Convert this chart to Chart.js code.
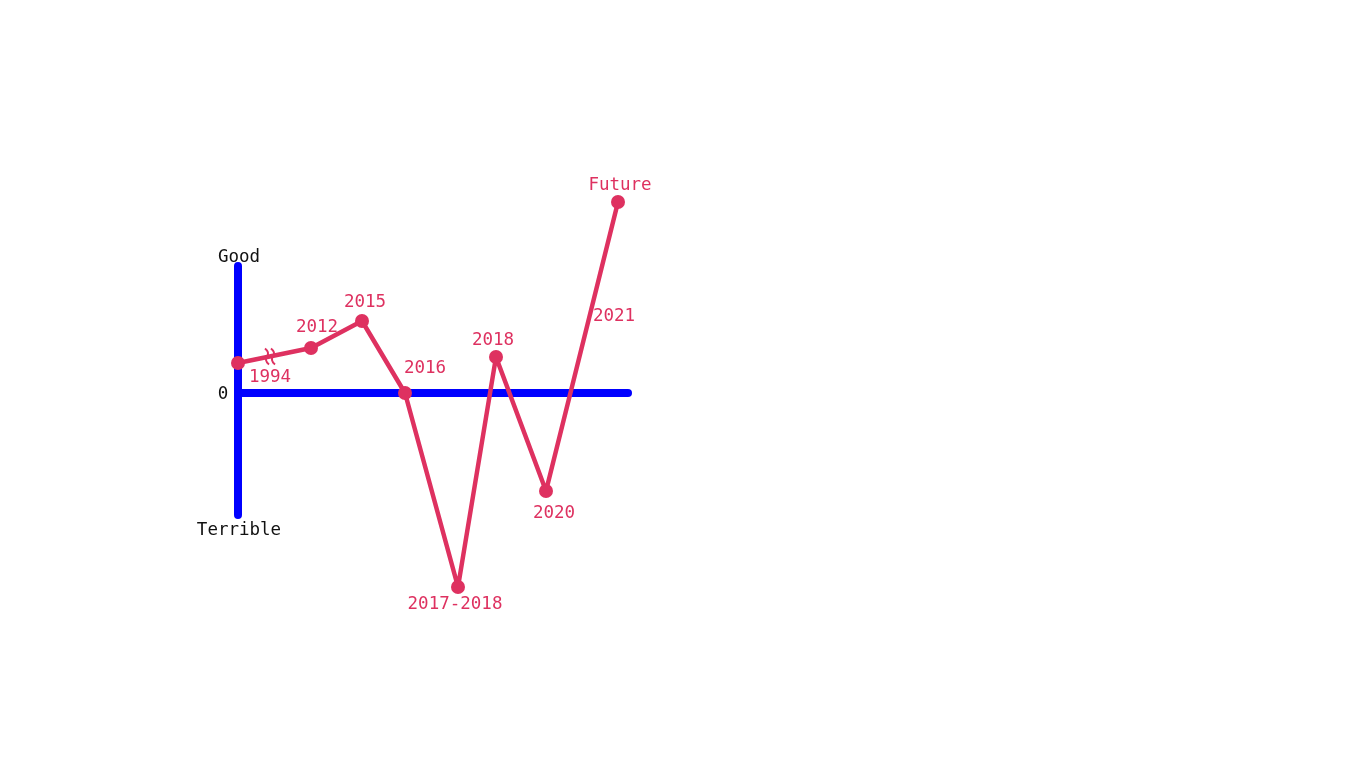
<!DOCTYPE html>
<html lang="en">
<head>
    <meta charset="UTF-8">
    <title>Good / Terrible</title>
    <script src="https://cdn.jsdelivr.net/npm/chart.js"></script>
    <style>
        body {
            margin: 0;
            padding: 0;
            background: #fff;
            overflow: hidden;
        }
        canvas {
            display: block;
        }
    </style>
</head>
<body>
    <canvas id="lifeChart" width="1366" height="768"></canvas>

    <script>
        // data
        const years = ['1994', '2012', '2015', '2016', '2017-2018', '2018', '2020', 'Future'];
        const timeValues = [0, 7.3, 12.4, 16.7, 22.0, 25.8, 30.8, 38.0];
        const moodValues = [3.0, 4.5, 7.2, 0, -19.4, 3.6, -9.8, 19.1];

        // axes as data lines
        const axisX = [0, 39];
        const axisTop = 12.7;
        const axisBottom = -12.2;
        const axisLabels = ['Good', '0', 'Terrible'];

        // extra note on the last segment
        const noteText = ['2021'];
        const noteX = [37.6];
        const noteY = [7.8];

        // styles
        const pink = '#DE3160';
        const blue = '#0000FF';
        const font = '17.5px "DejaVu Sans Mono", monospace';
        const labelOffsets = [
            [32, 14], [6, -21], [3, -19], [20, -25],
            [-3, 17], [-3, -17], [8, 22], [2, -17]
        ];

        const labelPlugin = {
            id: 'labels',
            afterDatasetsDraw(chart) {
                const ctx = chart.ctx;
                const x = chart.scales.x;
                const y = chart.scales.y;
                ctx.save();
                ctx.font = font;
                ctx.textAlign = 'center';
                ctx.textBaseline = 'middle';

                // break marker between 1994 and 2012
                const bx = x.getPixelForValue(3.2);
                const by = y.getPixelForValue(moodValues[0] + (moodValues[1] - moodValues[0]) * 3.2 / timeValues[1]);
                ctx.strokeStyle = pink;
                ctx.lineWidth = 2;
                [-3, 3].forEach(dx => {
                    ctx.beginPath();
                    ctx.moveTo(bx + dx - 2, by - 8);
                    ctx.quadraticCurveTo(bx + dx + 3, by - 4, bx + dx, by);
                    ctx.quadraticCurveTo(bx + dx - 3, by + 4, bx + dx + 2, by + 8);
                    ctx.stroke();
                });

                ctx.fillStyle = pink;
                years.forEach((t, i) => {
                    const px = x.getPixelForValue(timeValues[i]) + labelOffsets[i][0];
                    const py = y.getPixelForValue(moodValues[i]) + labelOffsets[i][1];
                    ctx.fillText(t, px, py);
                });
                noteText.forEach((t, i) => {
                    ctx.fillText(t, x.getPixelForValue(noteX[i]), y.getPixelForValue(noteY[i]) + 1);
                });

                ctx.fillStyle = '#111';
                const ax = x.getPixelForValue(axisX[0]);
                ctx.fillText(axisLabels[0], ax + 1, y.getPixelForValue(axisTop) - 9);
                ctx.fillText(axisLabels[1], ax - 15, y.getPixelForValue(0) + 1);
                ctx.fillText(axisLabels[2], ax + 1, y.getPixelForValue(axisBottom) + 15);
                ctx.restore();
            }
        };

        const ctx = document.getElementById('lifeChart').getContext('2d');
        new Chart(ctx, {
            type: 'scatter',
            data: {
                datasets: [
                    {
                        label: 'life',
                        data: timeValues.map((v, i) => ({ x: v, y: moodValues[i] })),
                        showLine: true,
                        borderColor: pink,
                        backgroundColor: pink,
                        borderWidth: 4.5,
                        pointRadius: 7,
                        pointBorderWidth: 0,
                        borderJoinStyle: 'round',
                        order: 0
                    },
                    {
                        label: 'vertical axis',
                        data: [{ x: axisX[0], y: axisTop }, { x: axisX[0], y: axisBottom }],
                        showLine: true,
                        borderColor: blue,
                        borderWidth: 8,
                        borderCapStyle: 'round',
                        pointRadius: 0,
                        order: 1
                    },
                    {
                        label: 'horizontal axis',
                        data: [{ x: axisX[0], y: 0 }, { x: axisX[1], y: 0 }],
                        showLine: true,
                        borderColor: blue,
                        borderWidth: 8,
                        borderCapStyle: 'round',
                        pointRadius: 0,
                        order: 1
                    }
                ]
            },
            options: {
                responsive: false,
                animation: false,
                layout: { padding: 0, autoPadding: false },
                plugins: {
                    legend: { display: false },
                    tooltip: { enabled: false }
                },
                scales: {
                    x: { type: 'linear', min: -23.8, max: 112.8, display: false },
                    y: { type: 'linear', min: -37.5, max: 39.3, display: false }
                }
            },
            plugins: [labelPlugin]
        });
    </script>
</body>
</html>
